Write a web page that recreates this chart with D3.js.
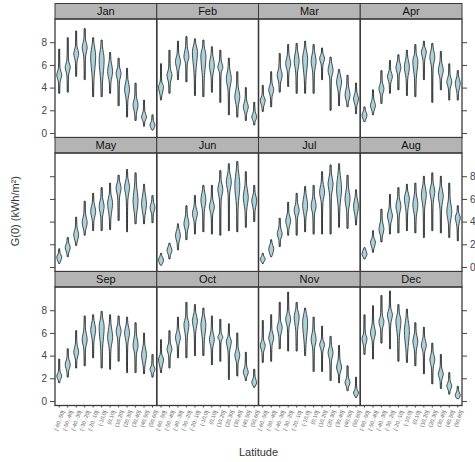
<!DOCTYPE html>
<html>
<head>
<meta charset="utf-8">
<script src="https://cdn.jsdelivr.net/npm/d3@7"></script>
<style>
  body { margin: 0; background: #fff; }
  text { font-family: "Liberation Sans", Arial, sans-serif; }
</style>
</head>
<body>
<div id="chart"></div>
<script>
// Categories ///////////////////////////////////////////////////////////////
const months = ['Jan','Feb','Mar','Apr','May','Jun','Jul','Aug','Sep','Oct','Nov','Dec'];
const latBins = ['(-60,-50]','(-50,-40]','(-40,-30]','(-30,-20]','(-20,-10]','(-10,0]',
                 '(0,10]','(10,20]','(20,30]','(30,40]','(40,50]','(50,60]'];
const yTicks = [0, 2, 4, 6, 8];

// Each violin: [min, lower body, mode, upper body, max] in kWh/m2
const jan = [[3.5,4.5,5.1,5.7,7.4],[3.6,5.1,5.8,6.4,8.4],[5.0,6.3,7.0,7.6,9.0],[4.7,6.7,7.6,8.2,9.2],
             [3.2,4.8,6.8,7.9,8.4],[3.2,4.5,6.5,7.6,8.2],[3.5,4.5,5.4,6.4,7.1],[2.4,4.5,5.3,5.8,6.6],
             [1.4,2.9,3.9,4.7,5.7],[1.1,1.7,2.5,3.2,4.4],[0.6,1.0,1.4,1.9,2.9],[0.25,0.3,0.7,1.1,1.6]];
const feb = [[2.9,3.3,4.1,4.5,6.1],[3.5,4.4,5.1,5.7,7.3],[4.7,5.5,6.3,7.0,8.1],[4.5,6.1,6.7,7.6,8.5],
             [3.3,5.3,7.2,7.9,8.3],[3.2,4.8,6.9,7.6,8.2],[3.6,5.0,6.0,6.9,7.6],[2.7,5.3,5.8,6.4,7.3],
             [1.6,3.8,4.8,5.7,6.6],[1.4,2.3,3.2,4.1,5.4],[1.1,1.7,2.3,2.9,4.0],[0.7,1.0,1.4,1.9,2.7]];
const mar = [[1.9,2.3,2.9,3.3,4.2],[2.3,3.2,3.8,4.4,5.4],[3.6,4.4,5.1,5.8,7.0],[4.1,5.4,6.1,6.9,7.8],
             [3.5,5.3,6.4,7.3,7.9],[3.5,4.8,6.6,7.5,8.1],[3.5,5.3,6.4,7.2,7.8],[4.7,6.0,6.6,7.0,7.5],
             [2.0,4.8,5.5,6.3,6.7],[2.4,3.6,4.5,5.3,5.6],[2.3,2.7,3.3,4.2,5.1],[1.7,2.4,3.0,3.6,4.4]];
const apr = [[1.0,1.1,1.6,2.0,2.3],[1.6,1.9,2.4,3.0,3.8],[2.6,3.3,3.9,4.5,5.5],[3.5,4.4,5.0,5.5,6.4],
             [3.8,5.1,5.8,6.4,6.9],[3.3,4.8,5.8,6.7,7.3],[3.2,4.8,6.4,7.0,7.8],[4.7,6.4,7.2,7.6,8.1],
             [2.7,5.8,6.7,7.5,7.9],[3.8,4.8,5.5,6.3,7.2],[2.9,3.9,4.5,5.1,6.1],[2.9,3.6,4.4,5.0,5.5]];
const may = [[0.3,0.4,0.9,1.2,1.6],[0.9,1.2,1.7,2.2,2.6],[1.9,2.2,2.8,3.5,4.4],[2.8,3.2,3.9,4.7,5.8],
             [3.2,4.1,4.9,5.7,6.5],[3.2,4.4,5.4,6.1,7.0],[3.3,4.4,5.7,6.4,7.4],[4.1,6.1,7.0,7.6,8.1],
             [3.1,6.0,7.1,7.8,8.6],[3.8,4.5,5.8,7.3,8.3],[3.8,4.5,5.5,6.7,7.3],[3.9,4.7,5.2,5.8,6.3]];
const jun = [[0.15,0.2,0.6,1.0,1.2],[0.7,1.0,1.5,1.9,2.1],[1.5,2.1,2.8,3.4,3.8],[2.4,3.1,3.8,4.6,5.4],
             [2.9,4.0,4.7,5.4,6.3],[3.1,4.9,5.9,6.8,7.2],[2.9,4.6,5.3,6.0,7.2],[2.8,5.9,6.9,7.6,8.5],
             [3.2,6.5,7.5,8.4,9.1],[3.1,5.4,7.2,8.7,9.3],[3.5,5.0,6.2,7.2,8.4],[4.0,5.0,5.9,6.5,7.2]];
const jul = [[0.3,0.4,0.7,1.0,1.2],[0.9,1.0,1.6,2.1,2.4],[1.8,2.4,2.9,3.5,4.3],[2.8,3.4,4.1,4.7,5.7],
             [2.8,4.3,5.0,5.7,6.5],[3.1,4.4,5.4,6.5,7.1],[2.9,4.6,5.4,6.2,7.2],[2.9,5.7,6.6,7.5,8.4],
             [2.9,6.2,7.4,8.2,9.0],[3.5,5.3,6.9,8.4,9.1],[3.4,4.9,6.0,7.1,8.1],[3.7,4.4,5.4,6.2,6.8]];
const aug = [[0.7,0.8,1.1,1.6,1.7],[1.3,1.6,2.2,2.6,3.2],[2.2,2.7,3.3,4.1,5.1],[2.9,3.8,4.5,5.2,6.4],
             [3.0,4.5,5.4,6.1,7.0],[3.2,4.9,6.1,6.7,7.3],[3.0,4.4,5.5,6.5,7.4],[2.6,5.2,6.4,7.3,8.0],
             [3.2,5.7,6.7,7.4,8.3],[3.0,5.2,6.3,7.1,8.0],[2.6,3.8,4.9,6.0,7.4],[2.3,3.6,4.4,4.8,5.4]];
const sep = [[1.6,1.8,2.2,2.6,3.7],[2.1,2.6,3.2,3.8,4.6],[2.9,3.7,4.3,5.0,6.2],[3.1,4.6,5.4,6.3,7.5],
             [3.8,5.3,6.3,7.1,7.6],[2.9,4.6,6.6,7.4,7.9],[2.8,4.6,5.6,6.8,7.6],[3.5,5.4,6.2,6.8,7.5],
             [2.5,5.1,6.0,6.8,7.4],[2.5,4.1,4.9,5.9,6.9],[2.4,3.1,4.1,4.9,6.0],[2.1,2.4,2.8,3.2,4.1]];
const oct = [[2.5,2.9,3.7,4.1,5.4],[2.9,4.0,4.6,5.1,6.2],[3.8,4.9,5.6,6.3,7.4],[3.8,5.6,6.8,7.4,8.7],
             [4.0,6.1,7.1,7.8,8.5],[4.0,5.3,6.8,7.6,8.2],[3.2,4.7,5.4,6.2,7.5],[3.5,5.3,5.6,6.0,7.2],
             [1.9,4.4,5.3,5.7,6.8],[2.2,3.4,4.0,4.7,6.0],[1.8,2.1,2.5,3.1,4.3],[1.2,1.3,1.6,2.1,2.8]];
const nov = [[3.4,4.3,4.9,5.4,7.1],[3.5,4.9,5.6,6.2,7.6],[4.6,5.7,6.5,7.1,8.7],[4.4,6.5,7.2,7.9,9.6],
             [4.4,6.2,7.5,8.1,8.7],[4.0,5.0,7.0,7.9,8.2],[2.6,4.6,5.4,6.3,7.4],[2.6,4.4,5.0,5.4,6.6],
             [1.8,3.5,4.3,4.9,5.7],[1.6,2.4,2.9,3.7,4.9],[0.9,1.2,1.6,2.1,3.1],[0.3,0.4,0.7,1.1,2.1]];
const dec = [[4.1,4.8,5.5,6.0,7.6],[3.7,5.3,6.0,6.8,8.4],[5.1,6.3,7.0,7.6,9.3],[4.6,6.8,7.6,8.2,9.7],
             [3.5,5.6,7.1,7.8,8.5],[3.4,4.4,6.2,7.4,8.1],[3.1,4.4,5.3,6.0,6.9],[2.4,4.3,4.9,5.6,6.5],
             [1.5,2.9,3.7,4.3,5.1],[1.1,1.8,2.4,2.9,4.1],[0.6,0.9,1.3,1.8,2.5],[0.2,0.2,0.5,0.9,1.3]];

const monthly = [jan, feb, mar, apr, may, jun, jul, aug, sep, oct, nov, dec];

// Layout ////////////////////////////////////////////////////////////////////
const width = 475, height = 462;
const left = 55, panelW = 101.75, top0 = 3.5, rowPitch = 134, stripH = 15.5;
const nCols = 4;

const svg = d3.select('#chart').append('svg')
  .attr('width', width)
  .attr('height', height)
  .attr('viewBox', [0, 0, width, height]);

const x = d3.scaleBand().domain(latBins).range([0, panelW]).paddingInner(0).paddingOuter(0);
const y = d3.scaleLinear().domain([-0.4, 10.05]).range([rowPitch - stripH, 0]);
const plotH = rowPitch - stripH;

// violin outline: half widths along [min, lower, mode, upper, max]
const halfW = [0.45, 0.9, 2.5, 0.9, 0.45];
const violin = d3.area()
  .curve(d3.curveCatmullRom.alpha(0.5))
  .y(d => y(d[0]))
  .x0(d => -d[1])
  .x1(d => d[1]);

monthly.forEach((vals, m) => {
  const col = m % nCols, row = Math.floor(m / nCols);
  const g = svg.append('g')
    .attr('transform', `translate(${left + col * panelW},${top0 + row * rowPitch})`);

  // strip
  g.append('rect')
    .attr('width', panelW).attr('height', stripH)
    .attr('fill', '#b4b4b4').attr('stroke', '#3a3a3a').attr('stroke-width', 1);
  g.append('text')
    .attr('x', panelW / 2).attr('y', stripH / 2 + 4)
    .attr('text-anchor', 'middle')
    .attr('font-size', 11)
    .attr('fill', '#111')
    .text(months[m]);

  const p = g.append('g').attr('transform', `translate(0,${stripH})`);

  const v = p.selectAll('g.violin')
    .data(vals)
    .join('g')
    .attr('class', 'violin')
    .attr('transform', (d, i) => `translate(${x(latBins[i]) + x.bandwidth() / 2},0)`);

  v.append('line')
    .attr('y1', d => y(d[0])).attr('y2', d => y(d[4]))
    .attr('stroke', '#2e2e2e').attr('stroke-width', 1.6);

  v.append('path')
    .attr('d', d => violin(d.map((val, k) => [val, halfW[k]])))
    .attr('fill', '#a9d2dc')
    .attr('stroke', '#262626')
    .attr('stroke-width', 0.8);

  p.append('rect')
    .attr('width', panelW).attr('height', plotH)
    .attr('fill', 'none').attr('stroke', '#3a3a3a').attr('stroke-width', 1.3);

  // y axes, alternating sides like lattice
  const labelLeft = row !== 1;
  if (col === 0) {
    const ax = d3.axisLeft(y).tickValues(yTicks).tickSize(5).tickPadding(3)
      .tickFormat(labelLeft ? d3.format('d') : '');
    p.append('g').call(ax).call(styleAxis);
  }
  if (col === nCols - 1) {
    const ax = d3.axisRight(y).tickValues(yTicks).tickSize(5).tickPadding(3)
      .tickFormat(labelLeft ? '' : d3.format('d'));
    p.append('g').attr('transform', `translate(${panelW},0)`).call(ax).call(styleAxis);
  }

  // x axis on bottom row
  if (row === 2) {
    const xa = p.append('g').attr('transform', `translate(0,${plotH})`)
      .call(d3.axisBottom(x).tickSize(2).tickPadding(2))
      .call(styleAxis);
    xa.selectAll('text')
      .attr('font-size', 5.5)
      .attr('fill', '#666')
      .attr('text-anchor', 'end')
      .attr('dx', '0em').attr('dy', '0.3em')
      .attr('transform', 'translate(0,4) rotate(-70)');
  }
});

function styleAxis(sel) {
  sel.select('.domain').remove();
  sel.selectAll('.tick line').attr('stroke', '#444');
  sel.selectAll('text').attr('fill', '#444').attr('font-size', 10)
    .attr('font-family', '"Liberation Sans", Arial, sans-serif');
}

// axis titles
svg.append('text')
  .attr('transform', `translate(19,${top0 + 1.55 * rowPitch}) rotate(-90)`)
  .attr('text-anchor', 'middle')
  .attr('font-size', 11)
  .attr('fill', '#333')
  .text('G(0) (kWh/m²)');

svg.append('text')
  .attr('x', left + 2 * panelW)
  .attr('y', 456)
  .attr('text-anchor', 'middle')
  .attr('font-size', 11)
  .attr('fill', '#333')
  .text('Latitude');
</script>
</body>
</html>
